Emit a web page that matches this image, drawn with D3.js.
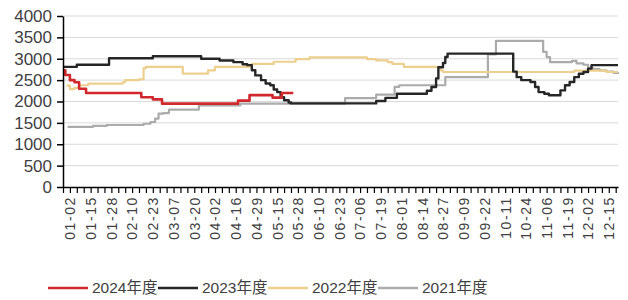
<!DOCTYPE html>
<html>
<head>
<meta charset="utf-8">
<script src="https://cdn.jsdelivr.net/npm/d3@7"></script>
<style>
body { margin: 0; background: #fff; }
text { font-family: "Liberation Sans", Arial, "Noto Sans CJK SC", sans-serif; fill: #404040; }
</style>
</head>
<body>
<svg id="chart"></svg>
<script>
const WIDTH = 628
const HEIGHT = 300
const MARGIN = { top: 16, right: 10, bottom: 113, left: 63 }

// trading-day index (0..241) along the year, tick labels every 9 days
const DAY_COUNT = 241
const TICK_LABELS = [
    '01-02', '01-15', '01-28', '02-10', '02-23', '03-07', '03-20', '04-02', '04-16',
    '04-29', '05-15', '05-28', '06-10', '06-23', '07-06', '07-19', '08-01', '08-14',
    '08-27', '09-09', '09-22', '10-11', '10-24', '11-06', '11-19', '12-02', '12-15'
]
const Y_TICKS = [0, 500, 1000, 1500, 2000, 2500, 3000, 3500, 4000]

const SERIES_NAMES = ['2024年度', '2023年度', '2022年度', '2021年度']
const SERIES_COLORS = ['#d0282c', '#262626', '#edcf8e', '#ababab']
const SERIES_WIDTHS = [2.6, 2.4, 2.2, 2.2]

// [day index, price] at each change
const S2024 = [
    [0, 2730], [1, 2620], [3, 2500], [5, 2450], [7, 2300], [10, 2200], [34, 2100],
    [39, 2050], [43, 1950], [76, 2020], [81, 2150], [91, 2090], [95, 2200], [100, 2200]
]
const S2023 = [
    [0, 2810], [6, 2860], [20, 3010], [39, 3060], [60, 3000], [68, 2960], [74, 2920],
    [78, 2870], [80, 2850], [82, 2730], [83.5, 2610], [86, 2500], [88, 2420], [90, 2380],
    [91.5, 2280], [93, 2220], [94.5, 2100], [96, 2030], [98, 1975], [99, 1955],
    [136, 2010], [140, 2085], [145, 2180], [158, 2250], [160, 2340], [162, 2540],
    [163, 2800], [165, 2900], [166, 3040], [167, 3120], [195.5, 2700], [197, 2570],
    [199, 2500], [203, 2455], [205, 2340], [206.5, 2220], [209, 2180], [211, 2145],
    [216, 2260], [218, 2380], [220, 2455], [222, 2570], [224, 2650], [226, 2690],
    [228, 2770], [229.5, 2850], [241, 2850]
]
const S2022 = [
    [1.5, 2370], [3, 2290], [5, 2320], [7, 2380], [11, 2420], [26, 2450], [27, 2500],
    [33, 2520], [35, 2780], [36, 2810], [52, 2650], [63, 2730], [66, 2810], [82, 2880],
    [91.5, 2930], [101, 2990], [107, 3030], [132, 2990], [136, 2960], [141, 2920],
    [143, 2880], [148, 2810], [164, 2730], [165, 2690], [222, 2720], [236, 2690], [241, 2690]
]
const S2021 = [
    [2, 1405], [13, 1430], [19, 1450], [35, 1480], [38, 1520], [40, 1600], [41.5, 1715],
    [43.5, 1730], [46, 1810], [59, 1910], [77, 1950], [122.5, 2080], [136, 2160],
    [144, 2340], [146, 2380], [166, 2570], [184.5, 3100], [188, 3420], [206, 3420],
    [208.5, 3160], [210, 3040], [211.5, 2920], [221, 2950], [223, 2890], [226, 2860],
    [228, 2790], [230, 2760], [233, 2730], [236, 2700], [239, 2670], [241, 2650]
]
const SERIES = [S2024, S2023, S2022, S2021]

const svg = d3.select('#chart')
    .attr('width', WIDTH)
    .attr('height', HEIGHT)

const x = d3.scaleLinear()
    .domain([0, DAY_COUNT])
    .range([MARGIN.left, WIDTH - MARGIN.right])

const y = d3.scaleLinear()
    .domain([0, 4000])
    .range([HEIGHT - MARGIN.bottom, MARGIN.top])

// grid
svg.append('g')
    .selectAll('line')
    .data(Y_TICKS.slice(1))
    .enter().append('line')
        .attr('x1', x(0))
        .attr('x2', x(DAY_COUNT))
        .attr('y1', d => y(d))
        .attr('y2', d => y(d))
        .style('stroke', '#d9d9d9')
        .style('stroke-width', 1)

// series
const line = d3.line()
    .x(d => x(d[0]))
    .y(d => y(d[1]))
    .curve(d3.curveStepAfter)

const drawOrder = [3, 2, 1, 0]
svg.append('g')
    .selectAll('path')
    .data(drawOrder)
    .enter().append('path')
        .attr('d', i => line(SERIES[i]))
        .style('fill', 'none')
        .style('stroke', i => SERIES_COLORS[i])
        .style('stroke-width', i => SERIES_WIDTHS[i])
        .style('stroke-linejoin', 'round')

// y axis
const yAxis = svg.append('g')
    .attr('transform', `translate(${MARGIN.left},0)`)
    .call(d3.axisLeft(y).tickValues(Y_TICKS).tickFormat(d3.format('d'))
        .tickSize(6).tickSizeOuter(0).tickPadding(5))
yAxis.select('.domain').style('stroke', '#000').style('stroke-width', 1.5)
yAxis.selectAll('.tick line').style('stroke', '#000').style('stroke-width', 1.5)
yAxis.selectAll('.tick text')
    .style('font-size', '17px')
    .style('fill', '#404040')

// x axis: minor ticks every 3 days, labels every 9
const xAxis = svg.append('g')
    .attr('transform', `translate(0,${y(0)})`)
    .call(d3.axisBottom(x).tickValues(d3.range(0, DAY_COUNT + 1, 3)).tickSize(6).tickSizeOuter(0).tickFormat(''))
xAxis.select('.domain').style('stroke', '#000').style('stroke-width', 1.5)
xAxis.selectAll('.tick line').style('stroke', '#000').style('stroke-width', 1.2)

const labelAxis = svg.append('g')
    .attr('transform', `translate(0,${y(0)})`)
    .call(d3.axisBottom(x)
        .tickValues(TICK_LABELS.map((d, i) => 3 + 9 * i))
        .tickSize(0)
        .tickFormat((d, i) => TICK_LABELS[i]))
labelAxis.select('.domain').remove()
labelAxis.selectAll('.tick text')
    .attr('transform', 'rotate(-90)')
    .attr('x', -9)
    .attr('y', 0)
    .attr('dy', '0.35em')
    .style('text-anchor', 'end')
    .style('font-size', '14px')
    .style('letter-spacing', '1.6px')
    .style('fill', '#404040')

// legend
const legend = svg.append('g')
    .selectAll('g')
    .data(SERIES_NAMES)
    .enter().append('g')
        .attr('transform', (d, i) => `translate(${48 + i * 110},288)`)

legend.append('line')
    .attr('x1', 0)
    .attr('x2', 40)
    .style('stroke', (d, i) => SERIES_COLORS[i])
    .style('stroke-width', 2.6)

legend.append('text')
    .attr('x', 44)
    .attr('dy', '0.35em')
    .style('font-size', '15.5px')
    .text(d => d)
</script>
</body>
</html>
